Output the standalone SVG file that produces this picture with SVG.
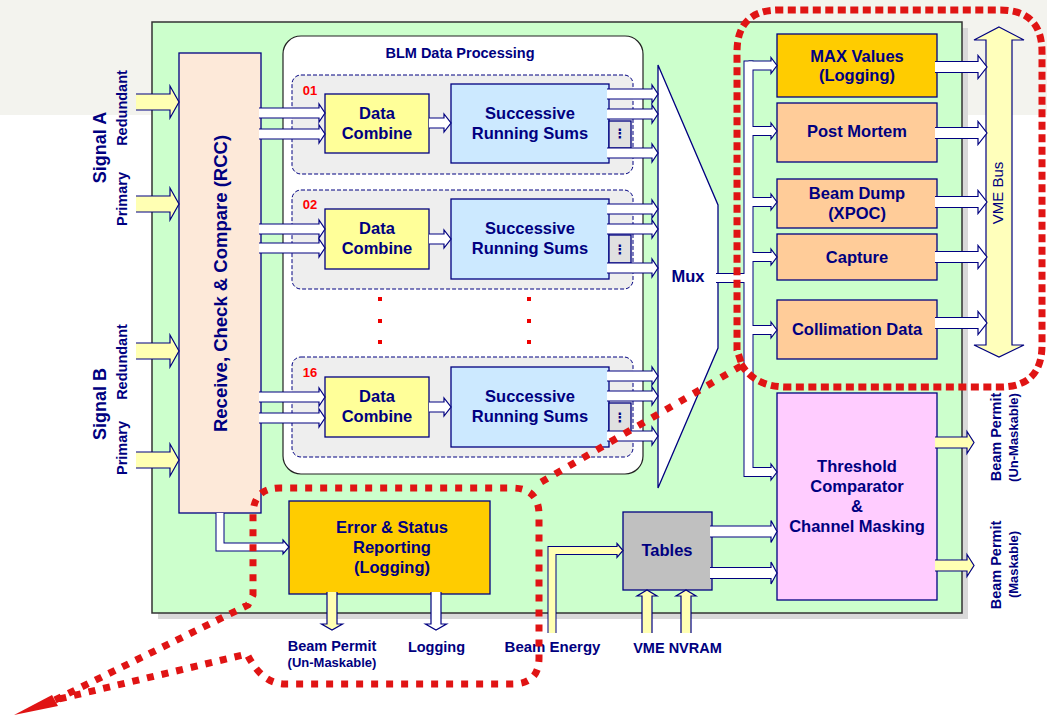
<svg xmlns="http://www.w3.org/2000/svg" width="1047" height="715" viewBox="0 0 1047 715">
<defs>
<style>
.t{font-family:"Liberation Sans",Arial,sans-serif;font-weight:bold;fill:#000080;text-anchor:middle}
.b{stroke:#000080;stroke-width:1.3}
.wa{fill:#ffffff;stroke:#000080;stroke-width:1.2}
.ya{fill:#ffffb3;stroke:#000080;stroke-width:1.2}
.grp{fill:#eeeeee;stroke:#000080;stroke-width:1;stroke-dasharray:4 2}
.dc{fill:#ffff99}
.srs{fill:#cce9ff}
.dots{fill:#e0e0e0}
.org{fill:#ffcc99}
.red{fill:none;stroke:#e01414;stroke-width:7}
</style>
</defs>
<rect x="0" y="0" width="1047" height="715" fill="#ffffff"/>
<rect x="0" y="0" width="1047" height="115" fill="#f3f3ee"/>
<g id="board">
<rect x="158" y="28" width="810" height="591" fill="#d9d9d9"/>
<rect x="152" y="22" width="810" height="591" fill="#ccffcc" stroke="#333333" stroke-width="1.5"/>
</g>
<g id="labels-left">
<text class="t" font-size="18" transform="translate(99,147.5) rotate(-90)" y="6.5">Signal A</text>
<text class="t" font-size="14.5" transform="translate(122,108) rotate(-90)" y="5.2">Redundant</text>
<text class="t" font-size="14.5" transform="translate(122,199) rotate(-90)" y="5.2">Primary</text>
<text class="t" font-size="18" transform="translate(99,404) rotate(-90)" y="6.5">Signal B</text>
<text class="t" font-size="14.5" transform="translate(122,362) rotate(-90)" y="5.2">Redundant</text>
<text class="t" font-size="14.5" transform="translate(122,448) rotate(-90)" y="5.2">Primary</text>
</g>
<g id="rcc">
<rect class="b" x="179" y="53" width="82" height="460" fill="#fde9d9"/>
<text class="t" font-size="18.5" transform="translate(220,283.5) rotate(-90)" y="6.6">Receive, Check &amp; Compare (RCC)</text>
</g>
<g id="blm">
<rect x="283" y="36" width="360" height="438" rx="18" fill="#ffffff" stroke="#222222" stroke-width="1.2"/>
<text class="t" font-size="14.5" x="460" y="58">BLM Data Processing</text>
<rect class="grp" x="292" y="75" width="341" height="99" rx="9"/>
<rect class="grp" x="292" y="190" width="341" height="99" rx="9"/>
<rect class="grp" x="292" y="357" width="341" height="100" rx="9"/>
<g fill="#ee0000">
<rect x="378" y="297" width="4" height="4"/><rect x="378" y="319" width="4" height="4"/><rect x="378" y="340" width="4" height="4"/>
<rect x="527" y="297" width="4" height="4"/><rect x="527" y="319" width="4" height="4"/><rect x="527" y="340" width="4" height="4"/>
</g>
</g>
<g id="ch01">
<text class="t" font-size="13" x="310" y="95" fill="#ff0000" style="fill:#ff0000">01</text>
<rect class="b dc" x="325" y="94" width="104" height="59"/>
<text class="t" font-size="16.5" x="377" y="119">Data</text>
<text class="t" font-size="16.5" x="377" y="139">Combine</text>
<rect class="b srs" x="451" y="84" width="158" height="79"/>
<text class="t" font-size="16.5" x="530" y="119">Successive</text>
<text class="t" font-size="16.5" x="530" y="139">Running Sums</text>
<rect class="b dots" x="609" y="121" width="22" height="27"/>
<text class="t" font-size="13" x="620" y="138" style="font-family:'DejaVu Sans',sans-serif">⋮</text>
</g>
<g id="ch02">
<text class="t" font-size="13" x="310" y="209" style="fill:#ff0000">02</text>
<rect class="b dc" x="325" y="209" width="104" height="60"/>
<text class="t" font-size="16.5" x="377" y="234">Data</text>
<text class="t" font-size="16.5" x="377" y="254">Combine</text>
<rect class="b srs" x="451" y="199" width="158" height="80"/>
<text class="t" font-size="16.5" x="530" y="234">Successive</text>
<text class="t" font-size="16.5" x="530" y="254">Running Sums</text>
<rect class="b dots" x="609" y="235" width="22" height="28"/>
<text class="t" font-size="13" x="620" y="254" style="font-family:'DejaVu Sans',sans-serif">⋮</text>
</g>
<g id="ch16">
<text class="t" font-size="13" x="310" y="377" style="fill:#ff0000">16</text>
<rect class="b dc" x="325" y="377" width="104" height="60"/>
<text class="t" font-size="16.5" x="377" y="402">Data</text>
<text class="t" font-size="16.5" x="377" y="422">Combine</text>
<rect class="b srs" x="451" y="367" width="158" height="80"/>
<text class="t" font-size="16.5" x="530" y="402">Successive</text>
<text class="t" font-size="16.5" x="530" y="422">Running Sums</text>
<rect class="b dots" x="609" y="403" width="22" height="29"/>
<text class="t" font-size="13" x="620" y="422" style="font-family:'DejaVu Sans',sans-serif">⋮</text>
</g>
<g id="mux">
<polygon class="b" points="658,65 718,205 718,348 658,488" fill="#ffffff"/>
<text class="t" font-size="16.5" x="688" y="282">Mux</text>
</g>
<g id="max">
<rect class="b" x="777" y="34" width="160" height="63" fill="#ffcc00"/>
<text class="t" font-size="16.5" x="857" y="62">MAX Values</text>
<text class="t" font-size="16.5" x="857" y="81">(Logging)</text>
</g>
<g id="postmortem">
<rect class="b org" x="777" y="103" width="160" height="59"/>
<text class="t" font-size="16.5" x="857" y="137">Post Mortem</text>
</g>
<g id="beamdump">
<rect class="b org" x="777" y="179" width="160" height="49"/>
<text class="t" font-size="16.5" x="857" y="199">Beam Dump</text>
<text class="t" font-size="16.5" x="857" y="219">(XPOC)</text>
</g>
<g id="capture">
<rect class="b org" x="777" y="234" width="160" height="46"/>
<text class="t" font-size="16.5" x="857" y="263">Capture</text>
</g>
<g id="collimation">
<rect class="b org" x="777" y="300" width="160" height="59"/>
<text class="t" font-size="16.5" x="857" y="335">Collimation Data</text>
</g>
<g id="threshold">
<rect class="b" x="777" y="393" width="160" height="207" fill="#ffccff"/>
<text class="t" font-size="16.5" x="857" y="472">Threshold</text>
<text class="t" font-size="16.5" x="857" y="492">Comparator</text>
<text class="t" font-size="16.5" x="857" y="512">&amp;</text>
<text class="t" font-size="16.5" x="857" y="532">Channel Masking</text>
</g>
<g id="error">
<rect class="b" x="289" y="501" width="201" height="93" fill="#ffcc00"/>
<text class="t" font-size="16.5" x="392" y="533">Error &amp; Status</text>
<text class="t" font-size="16.5" x="392" y="553">Reporting</text>
<text class="t" font-size="16.5" x="392" y="573">(Logging)</text>
</g>
<g id="tables">
<rect class="b" x="623" y="512" width="89" height="78" fill="#c0c0c0"/>
<text class="t" font-size="16.5" x="667" y="556">Tables</text>
</g>
<g id="vmebus">
<polygon points="999,27 1024,40 1012,40 1012,345 1024,345 999,357 974,345 986,345 986,40 974,40" fill="#ffffbb" stroke="#000080" stroke-width="1.2"/>
<text font-family="'Liberation Sans',Arial,sans-serif" font-size="15" fill="#000080" text-anchor="middle" transform="translate(998,193) rotate(-90)" y="5.4">VME Bus</text>
</g>
<g id="connectors">
<polyline class="ya" points="136,94 170,94 170,86 179,102 170,118 170,110 136,110"/>
<polyline class="ya" points="136,196 170,196 170,188 179,204 170,220 170,212 136,212"/>
<polyline class="ya" points="136,343 170,343 170,335 179,351 170,367 170,359 136,359"/>
<polyline class="ya" points="136,452 170,452 170,444 179,460 170,476 170,468 136,468"/>
<polyline class="wa" points="259,108 319,108 319,104 325,113 319,122 319,118 259,118"/>
<polyline class="wa" points="259,129 319,129 319,125 325,134 319,143 319,139 259,139"/>
<polyline class="wa" points="259,224 319,224 319,220 325,229 319,238 319,234 259,234"/>
<polyline class="wa" points="259,243 319,243 319,239 325,248 319,257 319,253 259,253"/>
<polyline class="wa" points="259,392 319,392 319,388 325,397 319,406 319,402 259,402"/>
<polyline class="wa" points="259,413 319,413 319,409 325,418 319,427 319,423 259,423"/>
<polyline class="wa" points="429,118 444,118 444,114 451,123 444,132 444,128 429,128"/>
<polyline class="wa" points="429,234 444,234 444,230 451,239 444,248 444,244 429,244"/>
<polyline class="wa" points="429,402 444,402 444,398 451,407 444,416 444,412 429,412"/>
<polyline class="wa" points="607,89 652,89 652,85 658,94 652,103 652,99 607,99"/>
<polyline class="wa" points="607,109 652,109 652,105 658,114 652,123 652,119 607,119"/>
<polyline class="wa" points="607,148 652,148 652,144 658,153 652,162 652,158 607,158"/>
<polyline class="wa" points="607,204 652,204 652,200 658,209 652,218 652,214 607,214"/>
<polyline class="wa" points="607,224 652,224 652,220 658,229 652,238 652,234 607,234"/>
<polyline class="wa" points="607,263 652,263 652,259 658,268 652,277 652,273 607,273"/>
<polyline class="wa" points="607,371 652,371 652,367 658,376 652,385 652,381 607,381"/>
<polyline class="wa" points="607,391 652,391 652,387 658,396 652,405 652,401 607,401"/>
<polyline class="wa" points="607,431 652,431 652,427 658,436 652,445 652,441 607,441"/>
<path d="M748.5 65.5 V472" fill="none" stroke="#000080" stroke-width="10" stroke-linecap="square"/>
<path d="M716 278 H748.5 M748.5 65.5 H772 M748.5 131 H772 M748.5 202 H772 M748.5 257 H772 M748.5 330 H772 M748.5 472 H772" fill="none" stroke="#000080" stroke-width="10"/>
<g class="wa">
<polygon points="771,57.5 777,65.5 771,73.5"/>
<polygon points="771,123 777,131 771,139"/>
<polygon points="771,194 777,202 771,210"/>
<polygon points="771,249 777,257 771,265"/>
<polygon points="771,322 777,330 771,338"/>
<polygon points="771,464 777,472 771,480"/>
</g>
<path d="M748.5 65.5 V472" fill="none" stroke="#ffffff" stroke-width="8" stroke-linecap="square"/>
<path d="M716 278 H748.5 M748.5 65.5 H772 M748.5 131 H772 M748.5 202 H772 M748.5 257 H772 M748.5 330 H772 M748.5 472 H772" fill="none" stroke="#ffffff" stroke-width="8"/>
<polyline class="wa" points="935,61.5 978,61.5 978,55.5 987,67 978,78.5 978,72.5 935,72.5"/>
<polyline class="wa" points="935,127.5 978,127.5 978,121.5 987,133 978,144.5 978,138.5 935,138.5"/>
<polyline class="wa" points="935,196.5 978,196.5 978,190.5 987,202 978,213.5 978,207.5 935,207.5"/>
<polyline class="wa" points="935,251.5 978,251.5 978,245.5 987,257 978,268.5 978,262.5 935,262.5"/>
<polyline class="wa" points="935,317.5 978,317.5 978,311.5 987,323 978,334.5 978,328.5 935,328.5"/>
<polyline class="ya" points="935,437 967,437 967,431.5 974,442.5 967,453.5 967,448 935,448"/>
<polyline class="ya" points="935,560 967,560 967,554.5 974,565.5 967,576.5 967,571 935,571"/>
<polyline class="wa" points="710,526 771,526 771,520.5 777,531.5 771,542.5 771,537 710,537"/>
<polyline class="wa" points="710,567.5 771,567.5 771,562 777,573 771,584 771,578.5 710,578.5"/>
<polyline class="ya" points="327,592 327,624 321.5,624 332,630 342.5,624 337,624 337,592"/>
<polyline class="wa" points="431,592 431,624 425.5,624 436,630 446.5,624 441,624 441,592"/>
<polyline class="ya" points="642,633 642,596 637,596 647,590 657,596 652,596 652,633"/>
<polyline class="ya" points="681,633 681,596 676,596 686,590 696,596 691,596 691,633"/>
<path d="M552 633 V550.5 H617" fill="none" stroke="#000080" stroke-width="9"/>
<polygon class="ya" points="617,543.5 623,550.5 617,557.5"/>
<path d="M552 633 V550.5 H618" fill="none" stroke="#ffffb3" stroke-width="7"/>
<path d="M220 513 V547 H283" fill="none" stroke="#000080" stroke-width="9"/>
<polygon class="wa" points="283,540 289,547 283,554"/>
<path d="M220 513 V547 H284" fill="none" stroke="#ffffff" stroke-width="7"/>
</g>
<g id="labels-out">
<text class="t" font-size="14.5" transform="translate(996,437) rotate(-90)" y="5.2">Beam Permit</text>
<text class="t" font-size="13" transform="translate(1013.5,437.5) rotate(-90)" y="4.6">(Un-Maskable)</text>
<text class="t" font-size="14.5" transform="translate(996,565) rotate(-90)" y="5.2">Beam Permit</text>
<text class="t" font-size="13" transform="translate(1013.5,564.5) rotate(-90)" y="4.6">(Maskable)</text>
<text class="t" font-size="14.5" x="332" y="651">Beam Permit</text>
<text class="t" font-size="13" x="332" y="667">(Un-Maskable)</text>
<text class="t" font-size="14.5" x="436.5" y="652">Logging</text>
<text class="t" font-size="15" x="552.5" y="652">Beam Energy</text>
<text class="t" font-size="14.5" x="677.5" y="653">VME NVRAM</text>
</g>
<g id="callouts">
<path class="red" stroke-dasharray="8 4.5" d="M741 362 L737 350 V52 Q737 10 779 10 H1000 Q1042 10 1042 52 V345 Q1042 387 1000 387 H787 Q755 387 741 364"/>
<path class="red" stroke-dasharray="7 9" d="M741 366 L538 484"/>
<path class="red" stroke-dasharray="7 8" d="M55 700 L248 605 L253 595 V515 Q253 488 280 488 H512 Q539 488 539 515 V658 Q539 684 512 684 H285 Q262 684 247 654 L55 700"/>
<polygon points="14,715 52,695 58,706" fill="#e01414"/>
</g>
</svg>
